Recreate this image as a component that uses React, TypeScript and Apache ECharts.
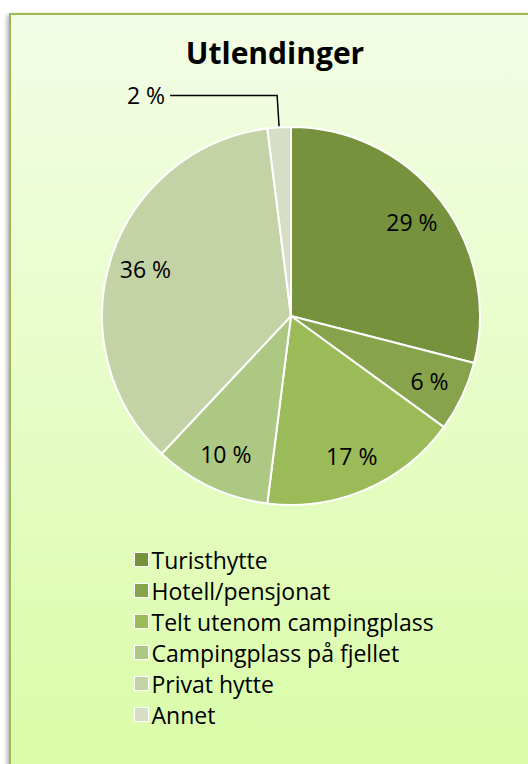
import React, { useEffect, useRef } from "react";
import * as echarts from "echarts";

const categories = [
  "Turisthytte",
  "Hotell/pensjonat",
  "Telt utenom campingplass",
  "Campingplass på fjellet",
  "Privat hytte",
  "Annet",
];
const values = [29, 6, 17, 10, 36, 2];
const colors = ["#76923c", "#87a34b", "#9bbb59", "#adc883", "#c3d3a5", "#d6dfc5"];
const outsideLabels = ["Annet"];
const titleText = "Utlendinger";

const FONT = "'Open Sans', Lato, sans-serif";

export default function App() {
  const ref = useRef<HTMLDivElement>(null);
  useEffect(() => {
    if (!ref.current) return;
    const chart = echarts.init(ref.current, null, { renderer: "svg" });
    const mainData = categories.map((name, i) => ({
      name,
      value: values[i],
      itemStyle: { color: colors[i] },
      label: { show: outsideLabels.includes(name) },
      labelLine: { show: outsideLabels.includes(name) },
    }));
    const labelData = categories.map((name, i) => ({
      name,
      value: values[i],
      label: { show: !outsideLabels.includes(name) },
    }));
    chart.setOption({
      animation: false,
      graphic: [
        {
          type: "rect",
          shape: { x: 10, y: 14, width: 540, height: 780 },
          style: {
            fill: {
              type: "linear",
              x: 0,
              y: 0,
              x2: 0,
              y2: 1,
              colorStops: [
                { offset: 0, color: "#f3fde6" },
                { offset: 1, color: "#d9fca6" },
              ],
            },
            stroke: "#9bbb59",
            lineWidth: 2,
            shadowBlur: 4,
            shadowColor: "rgba(0,0,0,0.3)",
            shadowOffsetX: -2,
            shadowOffsetY: 2,
          },
          z: -10,
        },
      ],
      title: {
        text: titleText,
        left: 270,
        top: 32,
        textAlign: "center",
        textStyle: { fontFamily: FONT, fontSize: 30, fontWeight: "bold", color: "#000" },
      },
      legend: {
        orient: "vertical",
        left: 129,
        top: 543,
        itemWidth: 14,
        itemHeight: 14,
        itemGap: 8,
        icon: "rect",
        data: categories,
        selectedMode: false,
        textStyle: { fontFamily: FONT, fontSize: 23, lineHeight: 23, color: "#000", padding: [0, 0, 0, -2] },
        itemStyle: { borderColor: "#ffffff", borderWidth: 1 },
      },
      series: [
        {
          type: "pie",
          center: [291, 316],
          radius: [0, 189],
          startAngle: 90,
          clockwise: true,
          data: mainData,
          itemStyle: { borderColor: "#ffffff", borderWidth: 2 },
          label: {
            position: "outside",
            formatter: "{c} %",
            fontFamily: FONT,
            fontSize: 23,
            color: "#000",
          },
          labelLine: {
            length: 32,
            length2: 107,
            lineStyle: { color: "#000", width: 1.5 },
          },
          emphasis: { disabled: true },
          silent: true,
        },
        {
          type: "pie",
          center: [291, 316],
          radius: [111, 189],
          startAngle: 90,
          clockwise: true,
          data: labelData,
          itemStyle: { color: "rgba(0,0,0,0)", borderWidth: 0 },
          label: {
            position: "inside",
            formatter: "{c} %",
            fontFamily: FONT,
            fontSize: 23,
            color: "#000",
          },
          labelLine: { show: false },
          emphasis: { disabled: true },
          silent: true,
        },
      ],
    });
    return () => chart.dispose();
  }, []);
  return (
    <div
      ref={ref}
      style={{ position: "absolute", left: 0, top: 0, width: 528, height: 764, background: "#ffffff" }}
    />
  );
}
